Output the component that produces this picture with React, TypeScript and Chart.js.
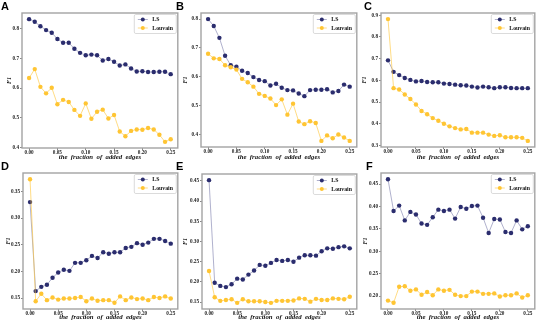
import React, { useEffect, useRef } from "react";
import { Chart, registerables } from "chart.js";

Chart.register(...registerables);

const fractions = [0.0, 0.01, 0.02, 0.03, 0.04, 0.05, 0.06, 0.07, 0.08, 0.09, 0.1, 0.11, 0.12, 0.13, 0.14, 0.15, 0.16, 0.17, 0.18, 0.19, 0.2, 0.21, 0.22, 0.23, 0.24, 0.25];
const xTickValues = [0.0, 0.05, 0.1, 0.15, 0.2, 0.25];

const lsA = [0.833, 0.824, 0.809, 0.796, 0.787, 0.766, 0.753, 0.753, 0.733, 0.719, 0.711, 0.713, 0.711, 0.693, 0.698, 0.689, 0.676, 0.68, 0.666, 0.656, 0.657, 0.654, 0.654, 0.655, 0.655, 0.647];
const louvainA = [0.634, 0.664, 0.604, 0.582, 0.601, 0.545, 0.56, 0.553, 0.526, 0.506, 0.548, 0.496, 0.52, 0.527, 0.497, 0.509, 0.453, 0.437, 0.455, 0.46, 0.459, 0.465, 0.46, 0.442, 0.418, 0.427];

const lsB = [0.8, 0.776, 0.735, 0.673, 0.64, 0.635, 0.621, 0.613, 0.599, 0.589, 0.585, 0.57, 0.576, 0.562, 0.554, 0.553, 0.542, 0.533, 0.554, 0.555, 0.555, 0.557, 0.546, 0.551, 0.573, 0.566];
const louvainB = [0.68, 0.664, 0.662, 0.64, 0.633, 0.625, 0.593, 0.581, 0.566, 0.541, 0.534, 0.525, 0.502, 0.522, 0.469, 0.507, 0.445, 0.436, 0.446, 0.44, 0.378, 0.397, 0.387, 0.4, 0.39, 0.378];

const lsC = [0.692, 0.639, 0.624, 0.611, 0.602, 0.595, 0.597, 0.592, 0.591, 0.591, 0.585, 0.583, 0.58, 0.577, 0.576, 0.571, 0.567, 0.571, 0.568, 0.564, 0.568, 0.568, 0.565, 0.564, 0.564, 0.564];
const louvainC = [0.882, 0.564, 0.558, 0.535, 0.514, 0.489, 0.459, 0.444, 0.426, 0.414, 0.4, 0.388, 0.38, 0.374, 0.376, 0.359, 0.359, 0.359, 0.35, 0.344, 0.347, 0.338, 0.338, 0.338, 0.335, 0.321];

const lsD = [0.33, 0.163, 0.171, 0.175, 0.188, 0.198, 0.203, 0.201, 0.216, 0.216, 0.221, 0.229, 0.225, 0.236, 0.233, 0.236, 0.236, 0.244, 0.246, 0.253, 0.25, 0.254, 0.261, 0.261, 0.257, 0.252];
const louvainD = [0.373, 0.144, 0.158, 0.146, 0.151, 0.147, 0.149, 0.149, 0.15, 0.152, 0.144, 0.149, 0.145, 0.146, 0.146, 0.141, 0.153, 0.146, 0.151, 0.148, 0.149, 0.146, 0.152, 0.15, 0.153, 0.149];

const lsE = [0.452, 0.198, 0.19, 0.187, 0.194, 0.208, 0.206, 0.218, 0.228, 0.242, 0.24, 0.247, 0.254, 0.252, 0.254, 0.25, 0.26, 0.266, 0.266, 0.265, 0.276, 0.283, 0.282, 0.286, 0.288, 0.283];
const louvainE = [0.227, 0.162, 0.153, 0.155, 0.157, 0.148, 0.157, 0.152, 0.152, 0.152, 0.15, 0.148, 0.153, 0.153, 0.153, 0.154, 0.159, 0.158, 0.151, 0.158, 0.155, 0.155, 0.159, 0.158, 0.157, 0.163];

const lsF = [0.461, 0.39, 0.402, 0.369, 0.388, 0.382, 0.362, 0.359, 0.376, 0.393, 0.39, 0.393, 0.373, 0.399, 0.395, 0.401, 0.402, 0.375, 0.341, 0.372, 0.371, 0.343, 0.341, 0.369, 0.349, 0.356];
const louvainF = [0.19, 0.185, 0.221, 0.222, 0.212, 0.215, 0.203, 0.209, 0.202, 0.215, 0.212, 0.214, 0.203, 0.2, 0.2, 0.21, 0.21, 0.205, 0.205, 0.206, 0.199, 0.202, 0.202, 0.206, 0.197, 0.202];

const yTicksA = [0.4, 0.5, 0.6, 0.7, 0.8];
const yTicksB = [0.4, 0.5, 0.6, 0.7, 0.8];
const yTicksC = [0.3, 0.4, 0.5, 0.6, 0.7, 0.8, 0.9];
const yTicksD = [0.15, 0.2, 0.25, 0.3, 0.35];
const yTicksE = [0.15, 0.2, 0.25, 0.3, 0.35, 0.4, 0.45];
const yTicksF = [0.2, 0.25, 0.3, 0.35, 0.4, 0.45];

const seriesNames = ["LS", "Louvain"];
const xTitle = "the  fraction  of  added  edges";
const yTitle = "F1";

const LS_COLOR = "#2b2d6e";
const LS_LINE = "rgba(60,62,130,0.45)";
const LV_COLOR = "#ffc533";
const LV_LINE = "rgba(255,200,60,0.7)";
const SERIF = "'Liberation Serif', 'DejaVu Serif', serif";

type Layout = {
  left: number; top: number; bottom: number;
  aL: number; aT: number; aR: number; aB: number;
  titlePad: number; lx: number; ly: number;
};

const panels = [
  { letter: "A", ls: lsA, lv: louvainA, yTicks: yTicksA, dec: 1, lay: { left: 5, top: 0, bottom: 162, aL: 22, aT: 13, aR: 178, aB: 148, titlePad: 0.4, lx: 1, ly: 0 } },
  { letter: "B", ls: lsB, lv: louvainB, yTicks: yTicksB, dec: 1, lay: { left: 181, top: 0, bottom: 162, aL: 201, aT: 13, aR: 357, aB: 147, titlePad: 0.4, lx: 176, ly: 0 } },
  { letter: "C", ls: lsC, lv: louvainC, yTicks: yTicksC, dec: 1, lay: { left: 360, top: 0, bottom: 162, aL: 381, aT: 13, aR: 535, aB: 147, titlePad: 0.4, lx: 364, ly: 0 } },
  { letter: "D", ls: lsD, lv: louvainD, yTicks: yTicksD, dec: 2, lay: { left: 4, top: 160, bottom: 325, aL: 23, aT: 173, aR: 178, aB: 309, titlePad: 3.4, lx: 1, ly: 160 } },
  { letter: "E", ls: lsE, lv: louvainE, yTicks: yTicksE, dec: 2, lay: { left: 181, top: 160, bottom: 325, aL: 202, aT: 174, aR: 357, aB: 309, titlePad: 3.4, lx: 176, ly: 160 } },
  { letter: "F", ls: lsF, lv: louvainF, yTicks: yTicksF, dec: 2, lay: { left: 361, top: 160, bottom: 325, aL: 381, aT: 173, aR: 535, aB: 309, titlePad: 3.4, lx: 366, ly: 160 } },
];

const framePlugin = {
  id: "frame",
  afterDatasetsDraw(chart: any) {
    const { ctx, chartArea: a } = chart;
    ctx.save();
    ctx.strokeStyle = "#a3a3a3";
    ctx.lineWidth = 1.4;
    ctx.strokeRect(a.left, a.top, a.right - a.left, a.bottom - a.top);
    ctx.restore();
  },
};

const legendPlugin = {
  id: "boxLegend",
  afterDraw(chart: any) {
    const { ctx, chartArea: a } = chart;
    const bw = 42, bh = 19;
    const bx = a.right - bw - 1.5, by = a.top + 1.5;
    ctx.save();
    ctx.fillStyle = "rgba(255,255,255,0.9)";
    ctx.strokeStyle = "#d2d2d2";
    ctx.lineWidth = 0.8;
    ctx.beginPath();
    ctx.roundRect(bx, by, bw, bh, 1.5);
    ctx.fill();
    ctx.stroke();
    const items = [
      { name: seriesNames[0], line: LS_LINE, color: LS_COLOR },
      { name: seriesNames[1], line: LV_LINE, color: LV_COLOR },
    ];
    items.forEach((it, i) => {
      const y = by + 5 + i * 8.5;
      ctx.strokeStyle = it.line;
      ctx.lineWidth = 0.9;
      ctx.beginPath();
      ctx.moveTo(bx + 3.5, y);
      ctx.lineTo(bx + 13.5, y);
      ctx.stroke();
      ctx.fillStyle = it.color;
      ctx.beginPath();
      ctx.arc(bx + 8.5, y, 2, 0, Math.PI * 2);
      ctx.fill();
      ctx.fillStyle = "#111";
      ctx.font = `bold 5.8px ${SERIF}`;
      ctx.textBaseline = "middle";
      ctx.textAlign = "left";
      ctx.fillText(it.name, bx + 18, y + 0.3);
    });
    ctx.restore();
  },
};

function Panel({ p }: { p: (typeof panels)[number] }) {
  const ref = useRef<HTMLCanvasElement>(null);
  const lay: Layout = p.lay;
  const w = lay.aR + 2 - lay.left;
  const h = lay.bottom - lay.top;

  useEffect(() => {
    if (!ref.current) return;
    const all = [...p.ls, ...p.lv];
    const lo = Math.min(...all);
    const hi = Math.max(...all);
    const m = (hi - lo) * 0.05;
    const tickFont = { family: SERIF, size: 5.2, weight: "bold" as const };
    const chart = new Chart(ref.current, {
      type: "line",
      data: {
        datasets: [
          {
            label: seriesNames[0],
            data: fractions.map((x, i) => ({ x, y: p.ls[i] })),
            borderColor: LS_LINE,
            borderWidth: 0.9,
            pointBackgroundColor: LS_COLOR,
            pointBorderColor: LS_COLOR,
            pointBorderWidth: 0,
            pointRadius: 2.2,
            pointHoverRadius: 2.2,
            order: 1,
          },
          {
            label: seriesNames[1],
            data: fractions.map((x, i) => ({ x, y: p.lv[i] })),
            borderColor: LV_LINE,
            borderWidth: 0.9,
            pointBackgroundColor: LV_COLOR,
            pointBorderColor: LV_COLOR,
            pointBorderWidth: 0,
            pointRadius: 2.2,
            pointHoverRadius: 2.2,
            order: 0,
          },
        ],
      },
      options: {
        animation: false,
        responsive: false,
        maintainAspectRatio: false,
        events: [],
        layout: { padding: { top: lay.aT - lay.top, right: 2, left: 0, bottom: 0 } },
        plugins: { legend: { display: false }, tooltip: { enabled: false } },
        scales: {
          x: {
            type: "linear",
            min: -0.0125,
            max: 0.2625,
            afterBuildTicks: (s: any) => {
              s.ticks = xTickValues.map((v) => ({ value: v }));
            },
            afterFit: (s: any) => {
              s.height = lay.bottom - lay.aB;
            },
            grid: { drawOnChartArea: false, drawTicks: true, tickLength: 2, color: "#555", lineWidth: 0.7 },
            border: { display: false },
            ticks: {
              font: tickFont,
              color: "#222",
              padding: 0,
              maxRotation: 0,
              autoSkip: false,
              callback: (v: any) => Number(v).toFixed(2),
            },
            title: {
              display: true,
              text: xTitle,
              color: "#111",
              font: { family: SERIF, size: 6.8, weight: "bold", style: "italic" },
              padding: { top: 0, bottom: lay.titlePad },
            },
          },
          y: {
            type: "linear",
            min: lo - m,
            max: hi + m,
            afterBuildTicks: (s: any) => {
              s.ticks = p.yTicks.map((v) => ({ value: v }));
            },
            afterFit: (s: any) => {
              s.width = lay.aL - lay.left;
            },
            grid: { drawOnChartArea: false, drawTicks: true, tickLength: 2, color: "#555", lineWidth: 0.7 },
            border: { display: false },
            ticks: {
              font: tickFont,
              color: "#222",
              padding: 1,
              autoSkip: false,
              callback: (v: any) => Number(v).toFixed(p.dec),
            },
            title: {
              display: true,
              text: yTitle,
              color: "#111",
              font: { family: SERIF, size: 6, weight: "bold", style: "italic" },
              padding: { top: 0.4, bottom: 0 },
            },
          },
        },
      },
      plugins: [framePlugin, legendPlugin],
    } as any);
    return () => chart.destroy();
  }, []);

  return (
    <>
      <canvas
        ref={ref}
        width={w}
        height={h}
        style={{ position: "absolute", left: lay.left, top: lay.top, width: w, height: h }}
      />
      <div
        style={{
          position: "absolute",
          left: lay.lx,
          top: lay.ly,
          fontFamily: "'Liberation Sans', Arial, sans-serif",
          fontWeight: "bold",
          fontSize: 11,
          lineHeight: "12px",
          color: "#000",
        }}
      >
        {p.letter}
      </div>
    </>
  );
}

export default function App() {
  return (
    <div style={{ position: "absolute", left: 0, top: 0, width: 540, height: 325, background: "#fff", overflow: "hidden" }}>
      {panels.map((p) => (
        <Panel key={p.letter} p={p} />
      ))}
    </div>
  );
}
